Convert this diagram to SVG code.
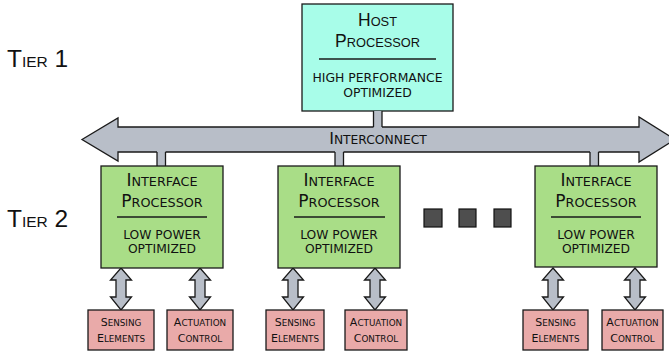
<svg xmlns="http://www.w3.org/2000/svg" width="669" height="353" viewBox="0 0 669 353">
  <style>
    .box { stroke: #1a1a1a; stroke-width: 1.3; }
    .host { fill: #a8fde9; }
    .ifp { fill: #a9dd87; }
    .io { fill: #e9aaa9; }
    .bus { fill: #b8bec8; stroke: #1a1a1a; stroke-width: 1.3; stroke-linejoin: miter; }
    .busfill { fill: #b8bec8; }
    .edge { stroke: #1a1a1a; stroke-width: 1.3; fill: none; }
    .sep { stroke: #1a1a1a; stroke-width: 1.3; }
    .dot { fill: #4e4e4e; stroke: #111; stroke-width: 1.2; }
    .hv { font-family: "Liberation Sans", Arial, sans-serif; fill: #111; text-anchor: middle; }
    .dv { font-family: "DejaVu Sans", Verdana, sans-serif; fill: #111; text-anchor: middle; }
    .tier { font-family: "Liberation Sans", Arial, sans-serif; fill: #111; }
  </style>

  <!-- tier labels -->
  <g id="tier1">
    <text class="tier" x="7" y="67" font-size="24.5">T<tspan font-size="15.5">IER</tspan> 1</text>
  </g>
  <g id="tier2">
    <text class="tier" x="7" y="227" font-size="24.5">T<tspan font-size="15.5">IER</tspan> 2</text>
  </g>

  <!-- host processor -->
  <g id="host">
    <rect class="box host" x="302" y="4" width="151" height="107"/>
    <text class="hv" x="377.5" y="26" font-size="17.5">H<tspan font-size="12.8">OST</tspan></text>
    <text class="hv" x="377.5" y="47" font-size="17.5">P<tspan font-size="12.8">ROCESSOR</tspan></text>
    <line class="sep" x1="319" y1="59" x2="436" y2="59"/>
    <text class="dv" x="377.5" y="82" font-size="12.4">HIGH PERFORMANCE</text>
    <text class="dv" x="377.5" y="97" font-size="12.4">OPTIMIZED</text>
  </g>

  <!-- connectors: shared bus, stubs and local links -->
  <g id="connectors">
    <g id="interconnect">
      <polygon class="bus" points="82,139.5 118,118 118,127 639,127 639,117 675,139.5 639,162 639,152 118,152 118,161"/>
      <text class="dv" x="378" y="143.5" font-size="16">I<tspan font-size="12.3">NTERCONNECT</tspan></text>
    </g>
    <!-- host stub -->
    <rect class="busfill" x="373.5" y="111" width="8.5" height="18"/>
    <path class="edge" d="M373.5,111V127M382,111V127"/>
    <!-- interface processor stubs -->
    <rect class="busfill" x="157" y="150" width="8.5" height="16"/>
    <path class="edge" d="M157,152V166M165.5,152V166"/>
    <rect class="busfill" x="335" y="150" width="8.5" height="16"/>
    <path class="edge" d="M335,152V166M343.5,152V166"/>
    <rect class="busfill" x="590" y="150" width="8.5" height="16"/>
    <path class="edge" d="M590,152V166M598.5,152V166"/>
    <!-- bidirectional links to sensing / actuation -->
    <g class="bus">
      <polygon points="121,268 131.5,280 126,280 126,297 131.5,297 121,310 110.5,297 116,297 116,280 110.5,280"/>
      <polygon points="200,268 210.5,280 205,280 205,297 210.5,297 200,310 189.5,297 195,297 195,280 189.5,280"/>
      <polygon points="293,268 303.5,280 298,280 298,297 303.5,297 293,310 282.5,297 288,297 288,280 282.5,280"/>
      <polygon points="375,268 385.5,280 380,280 380,297 385.5,297 375,310 364.5,297 370,297 370,280 364.5,280"/>
      <polygon points="553,268 563.5,280 558,280 558,297 563.5,297 553,310 542.5,297 548,297 548,280 542.5,280"/>
      <polygon points="635,268 645.5,280 640,280 640,297 645.5,297 635,310 624.5,297 630,297 630,280 624.5,280"/>
    </g>
  </g>

  <!-- interface processors -->
  <g id="ifp1">
    <rect class="box ifp" x="101" y="166" width="122" height="102"/>
    <text class="dv" x="162" y="186" font-size="17">I<tspan font-size="12.8">NTERFACE</tspan></text>
    <text class="dv" x="162" y="207" font-size="17">P<tspan font-size="12.8">ROCESSOR</tspan></text>
    <line class="sep" x1="117" y1="217" x2="207" y2="217"/>
    <text class="dv" x="162" y="239" font-size="12.3">LOW POWER</text>
    <text class="dv" x="162" y="253" font-size="12.3">OPTIMIZED</text>
  </g>
  <g id="ifp2">
    <rect class="box ifp" x="278" y="166" width="122" height="102"/>
    <text class="dv" x="339" y="186" font-size="17">I<tspan font-size="12.8">NTERFACE</tspan></text>
    <text class="dv" x="339" y="207" font-size="17">P<tspan font-size="12.8">ROCESSOR</tspan></text>
    <line class="sep" x1="294" y1="217" x2="385" y2="217"/>
    <text class="dv" x="339" y="239" font-size="12.3">LOW POWER</text>
    <text class="dv" x="339" y="253" font-size="12.3">OPTIMIZED</text>
  </g>
  <g id="ifp3">
    <rect class="box ifp" x="535" y="166" width="122" height="101"/>
    <text class="dv" x="596" y="186" font-size="17">I<tspan font-size="12.8">NTERFACE</tspan></text>
    <text class="dv" x="596" y="207" font-size="17">P<tspan font-size="12.8">ROCESSOR</tspan></text>
    <line class="sep" x1="551" y1="217" x2="641" y2="217"/>
    <text class="dv" x="596" y="239" font-size="12.3">LOW POWER</text>
    <text class="dv" x="596" y="253" font-size="12.3">OPTIMIZED</text>
  </g>

  <!-- ellipsis between processors -->
  <g id="more">
    <rect class="dot" x="424" y="209" width="18" height="18"/>
    <rect class="dot" x="459" y="209" width="17" height="18"/>
    <rect class="dot" x="494" y="209" width="17" height="18"/>
  </g>

  <!-- sensing / actuation blocks -->
  <g id="sense1">
    <rect class="box io" x="88" y="310" width="66" height="40"/>
    <text class="dv" x="121" y="326" font-size="11">S<tspan font-size="8.8">ENSING</tspan></text>
    <text class="dv" x="121" y="342" font-size="11">E<tspan font-size="8.8">LEMENTS</tspan></text>
  </g>
  <g id="act1">
    <rect class="box io" x="167" y="310" width="66" height="40"/>
    <text class="dv" x="200" y="326" font-size="11">A<tspan font-size="8.8">CTUATION</tspan></text>
    <text class="dv" x="200" y="342" font-size="11">C<tspan font-size="8.8">ONTROL</tspan></text>
  </g>
  <g id="sense2">
    <rect class="box io" x="266" y="310" width="58" height="40"/>
    <text class="dv" x="295" y="326" font-size="11">S<tspan font-size="8.8">ENSING</tspan></text>
    <text class="dv" x="295" y="342" font-size="11">E<tspan font-size="8.8">LEMENTS</tspan></text>
  </g>
  <g id="act2">
    <rect class="box io" x="345" y="310" width="62" height="40"/>
    <text class="dv" x="376" y="326" font-size="11">A<tspan font-size="8.8">CTUATION</tspan></text>
    <text class="dv" x="376" y="342" font-size="11">C<tspan font-size="8.8">ONTROL</tspan></text>
  </g>
  <g id="sense3">
    <rect class="box io" x="523" y="310" width="65" height="40"/>
    <text class="dv" x="555.5" y="326" font-size="11">S<tspan font-size="8.8">ENSING</tspan></text>
    <text class="dv" x="555.5" y="342" font-size="11">E<tspan font-size="8.8">LEMENTS</tspan></text>
  </g>
  <g id="act3">
    <rect class="box io" x="602" y="310" width="61" height="40"/>
    <text class="dv" x="632.5" y="326" font-size="11">A<tspan font-size="8.8">CTUATION</tspan></text>
    <text class="dv" x="632.5" y="342" font-size="11">C<tspan font-size="8.8">ONTROL</tspan></text>
  </g>
</svg>
